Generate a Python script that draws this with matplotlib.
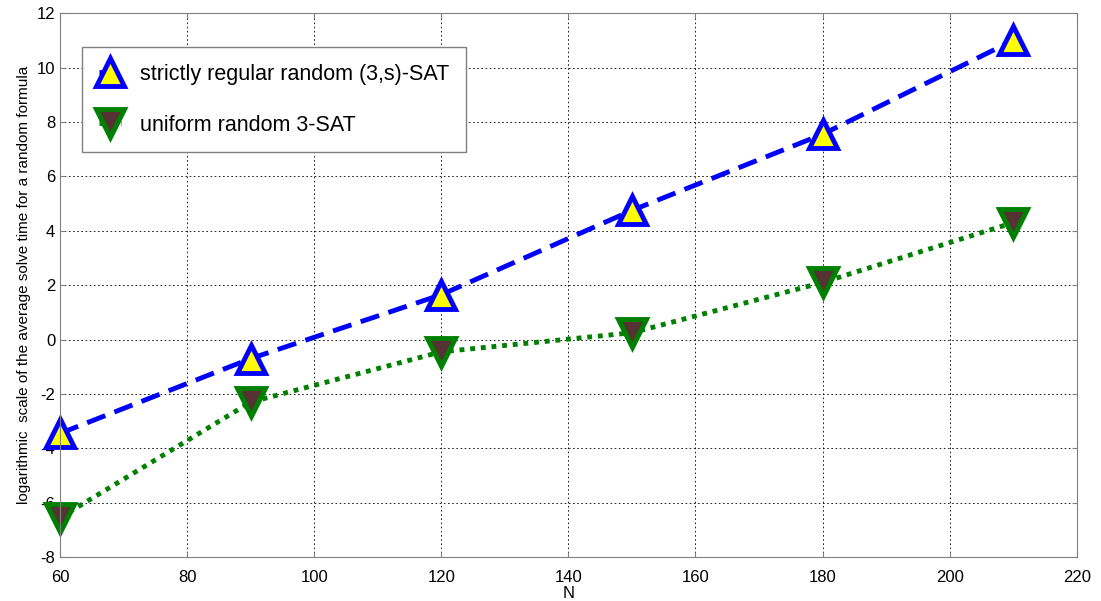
import numpy as np
import matplotlib.pyplot as plt

plt.rcParams['font.family'] = ['Liberation Sans', 'DejaVu Sans']
plt.rcParams['axes.unicode_minus'] = False

N = [60, 90, 120, 150, 180, 210]
regular = [-3.45, -0.7, 1.65, 4.75, 7.55, 11.0]
uniform = [-6.55, -2.3, -0.45, 0.25, 2.1, 4.3]

fig = plt.figure(figsize=(11.01, 6.01), dpi=100)
ax = fig.add_axes([0.0545, 0.073, 0.9235, 0.905])

ax.plot(N, regular, '--', color='blue', lw=3.5, dashes=(4, 2),
        marker='^', ms=20, mfc='yellow', mec='blue', mew=3.5, clip_on=False,
        label='strictly regular random (3,s)-SAT')
ax.plot(N, uniform, ':', color='green', lw=3.5, dashes=(1, 1.2),
        marker='v', ms=20, mfc='#553333', mec='green', mew=3.5, clip_on=False,
        label='uniform random 3-SAT')

ax.set_xlim(60, 220)
ax.set_ylim(-8, 12)
ax.set_xticks(np.arange(60, 221, 20))
ax.set_yticks(np.arange(-8, 13, 2))
ax.grid(True, color='black', linestyle=(0, (2, 3)), lw=0.6)
ax.tick_params(direction='in', top=True, right=True, labelsize=12, color='gray')
ax.tick_params(axis='x', pad=9)
for s in ax.spines.values():
    s.set_color('gray')
ax.set_xlabel('N', fontsize=12, labelpad=1)
ax.set_ylabel('logarithmic  scale of the average solve time for a random formula', fontsize=11, labelpad=4)

leg = ax.legend(loc='upper left', bbox_to_anchor=(0.022, 0.937), fontsize=15.5, fancybox=False,
                edgecolor='gray', framealpha=1, handlelength=1.05, handletextpad=0.9,
                borderpad=0.75, labelspacing=1.4, borderaxespad=0)
leg.get_frame().set_linewidth(1)

plt.savefig('out.png', dpi=100)
